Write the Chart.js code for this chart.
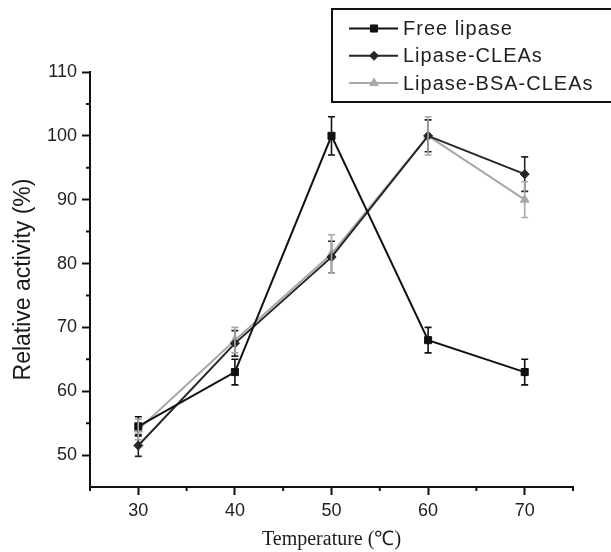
<!DOCTYPE html>
<html>
<head>
<meta charset="utf-8">
<script src="https://cdn.jsdelivr.net/npm/chart.js@4"></script>
<style>
  html, body { margin: 0; padding: 0; background: #fff; }
  canvas { display: block; }
</style>
</head>
<body>
<canvas id="activityChart" width="611" height="552"></canvas>
<script>
// temperature profile of the three lipase preparations
const temperatures = [30, 40, 50, 60, 70];

const freeLipase = [54.5, 63, 100, 68, 63];
const freeLipaseErr = [1.5, 2, 3, 2, 2];

const lipaseCleas = [51.5, 67.5, 81, 100, 94];
const lipaseCleasErr = [1.7, 2, 2.5, 2.5, 2.7];

const lipaseBsaCleas = [54, 68, 81.5, 100, 90];
const lipaseBsaCleasErr = [1.6, 2, 3, 3, 2.8];

const seriesLabels = ['Free lipase', 'Lipase-CLEAs', 'Lipase-BSA-CLEAs'];

const seriesColors = Object.freeze({
    FREE: '#111111',
    CLEAS: '#262626',
    BSA: '#a8a8a8',
});

Chart.defaults.font.family = '"Liberation Sans", Arial, sans-serif';
Chart.defaults.color = '#222';

function toPoints(values){
    return values.map((v, i) => ({ x: temperatures[i], y: v }));
}

// vertical error bars with caps
const errorBars = {
    id: 'errorBars',
    afterDatasetsDraw(chart){
        const ctx = chart.ctx;
        const yScale = chart.scales.y;
        chart.data.datasets.forEach((ds, di) => {
            const meta = chart.getDatasetMeta(di);
            ctx.save();
            ctx.strokeStyle = ds.borderColor;
            ctx.lineWidth = 1.6;
            meta.data.forEach((pt, i) => {
                const v = ds.data[i].y;
                const e = ds.errors[i];
                const top = yScale.getPixelForValue(v + e);
                const bot = yScale.getPixelForValue(v - e);
                ctx.beginPath();
                ctx.moveTo(pt.x, top);
                ctx.lineTo(pt.x, bot);
                ctx.moveTo(pt.x - 3.5, top);
                ctx.lineTo(pt.x + 3.5, top);
                ctx.moveTo(pt.x - 3.5, bot);
                ctx.lineTo(pt.x + 3.5, bot);
                ctx.stroke();
            });
            ctx.restore();
        });
    }
};

// short minor ticks between the labelled ones
const minorTicks = {
    id: 'minorTicks',
    afterDraw(chart){
        const ctx = chart.ctx;
        const {x, y} = chart.scales;
        ctx.save();
        ctx.strokeStyle = '#111';
        ctx.lineWidth = 2;
        ctx.beginPath();
        x.ticks.forEach(t => {
            if(t.value % 10 !== 0){
                const px = x.getPixelForValue(t.value);
                ctx.moveTo(px, y.bottom);
                ctx.lineTo(px, y.bottom + 4);
            }
        });
        y.ticks.forEach(t => {
            if(t.value % 10 !== 0 && t.value > y.min){
                const py = y.getPixelForValue(t.value);
                ctx.moveTo(x.left, py);
                ctx.lineTo(x.left - 4, py);
            }
        });
        ctx.stroke();
        ctx.restore();
    }
};

// boxed legend in the upper right corner
const boxLegend = {
    id: 'boxLegend',
    afterDraw(chart){
        const ctx = chart.ctx;
        ctx.save();
        ctx.strokeStyle = '#111';
        ctx.lineWidth = 2;
        ctx.strokeRect(332, 9, 290, 93);

        chart.data.datasets.forEach((ds, i) => {
            const rowY = 28.5 + i * 27.3;
            ctx.strokeStyle = ds.borderColor;
            ctx.lineWidth = 2;
            ctx.beginPath();
            ctx.moveTo(349, rowY);
            ctx.lineTo(398, rowY);
            ctx.stroke();

            ctx.fillStyle = ds.pointBackgroundColor;
            ctx.strokeStyle = ds.borderColor;
            ctx.lineWidth = 1;
            Chart.helpers.drawPoint(ctx, {
                pointStyle: ds.pointStyle,
                radius: ds.pointRadius,
                rotation: 0,
                borderWidth: 1
            }, 374, rowY);

            ctx.fillStyle = '#222';
            ctx.font = '20px "Liberation Sans", Arial, sans-serif';
            ctx.letterSpacing = '1px';
            ctx.textBaseline = 'middle';
            ctx.textAlign = 'left';
            ctx.fillText(ds.label, 403, rowY + 1);
            ctx.letterSpacing = '0px';
        });
        ctx.restore();
    }
};

function makeDataset(label, values, errors, color, style, radius){
    return {
        label: label,
        data: toPoints(values),
        errors: errors,
        borderColor: color,
        backgroundColor: color,
        pointBackgroundColor: color,
        pointBorderColor: color,
        pointStyle: style,
        pointRadius: radius,
        pointBorderWidth: 1,
        borderWidth: 2,
        tension: 0,
        clip: false
    };
}

new Chart(document.getElementById('activityChart'), {
    type: 'line',
    data: {
        datasets: [
            makeDataset(seriesLabels[0], freeLipase, freeLipaseErr, seriesColors.FREE, 'rect', 5),
            makeDataset(seriesLabels[1], lipaseCleas, lipaseCleasErr, seriesColors.CLEAS, 'rectRot', 4.5),
            makeDataset(seriesLabels[2], lipaseBsaCleas, lipaseBsaCleasErr, seriesColors.BSA, 'triangle', 5),
        ]
    },
    options: {
        responsive: false,
        animation: false,
        layout: {
            padding: { top: 72, right: 38, left: 0, bottom: 0 }
        },
        plugins: {
            legend: { display: false },
            tooltip: { enabled: false }
        },
        scales: {
            x: {
                type: 'linear',
                min: 25,
                max: 75,
                afterFit: (scale) => { scale.height = 65; },
                border: { color: '#111', width: 2 },
                grid: {
                    drawOnChartArea: false,
                    tickLength: 8,
                    tickWidth: 2,
                    tickColor: (c) => c.tick && c.tick.value % 10 === 0 ? '#111' : 'rgba(0,0,0,0)'
                },
                ticks: {
                    stepSize: 5,
                    padding: 5,
                    color: '#222',
                    font: { size: 18 },
                    maxRotation: 0,
                    callback: (value) => value % 10 === 0 ? value : ''
                },
                title: {
                    display: true,
                    text: 'Temperature (℃)',
                    color: '#1a1a1a',
                    padding: { top: 0, bottom: 0 },
                    font: { family: '"Liberation Serif", "Times New Roman", serif', size: 20 }
                }
            },
            y: {
                min: 45,
                max: 110,
                afterFit: (scale) => { scale.width = 90; },
                border: { color: '#111', width: 2 },
                grid: {
                    drawOnChartArea: false,
                    tickLength: 8,
                    tickWidth: 2,
                    tickColor: (c) => c.tick && c.tick.value % 10 === 0 ? '#111' : 'rgba(0,0,0,0)'
                },
                ticks: {
                    stepSize: 5,
                    padding: 5,
                    color: '#222',
                    font: { size: 18 },
                    callback: (value) => value % 10 === 0 ? value : ''
                },
                title: {
                    display: true,
                    text: 'Relative activity (%)',
                    color: '#1a1a1a',
                    padding: { top: 10, bottom: 0 },
                    font: { size: 23 }
                }
            }
        }
    },
    plugins: [errorBars, minorTicks, boxLegend]
});
</script>
</body>
</html>
